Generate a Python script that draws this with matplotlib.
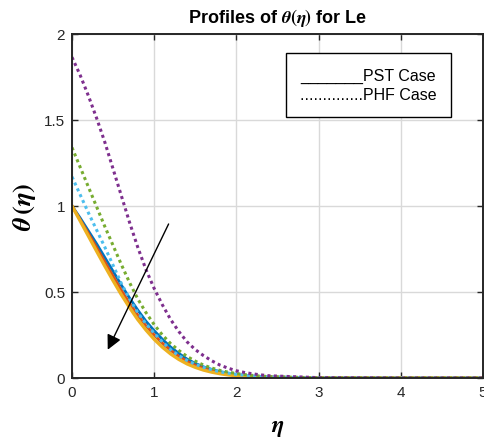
import numpy as np
import matplotlib
matplotlib.use("Agg")
import matplotlib.pyplot as plt
from matplotlib.lines import Line2D

plt.rcParams["font.family"] = ["Liberation Sans", "DejaVu Sans"]
plt.rcParams["mathtext.fontset"] = "stix"

# similarity variable
eta = [0, 0.1, 0.2, 0.3, 0.4, 0.5, 0.6, 0.7, 0.8, 0.9, 1.0, 1.1, 1.2, 1.3, 1.4,
       1.5, 1.6, 1.7, 1.8, 1.9, 2.0, 2.1, 2.2, 2.3, 2.4, 3, 4, 5]

# PST case (solid)
pst_blue = [1.0, 0.93, 0.855, 0.78, 0.70, 0.62, 0.54, 0.465, 0.395, 0.33, 0.275, 0.225, 0.18, 0.143,
            0.11, 0.085, 0.065, 0.05, 0.037, 0.028, 0.02, 0.015, 0.011, 0.008, 0.006, 0.001, 0, 0]
pst_red = [1.0, 0.92, 0.84, 0.758, 0.675, 0.592, 0.51, 0.435, 0.365, 0.303, 0.25, 0.202, 0.16, 0.126,
           0.097, 0.074, 0.056, 0.042, 0.031, 0.023, 0.017, 0.012, 0.009, 0.007, 0.005, 0.001, 0, 0]
pst_yellow = [1.0, 0.913, 0.825, 0.737, 0.65, 0.566, 0.485, 0.41, 0.34, 0.279, 0.225, 0.179, 0.14, 0.108,
              0.082, 0.062, 0.046, 0.034, 0.025, 0.018, 0.013, 0.01, 0.007, 0.005, 0.003, 0, 0, 0]

# PHF case (dotted)
phf_cyan = [1.17, 1.065, 0.96, 0.86, 0.76, 0.655, 0.55, 0.46, 0.38, 0.315, 0.26, 0.21, 0.165, 0.13,
            0.102, 0.08, 0.062, 0.048, 0.036, 0.028, 0.021, 0.016, 0.012, 0.009, 0.006, 0.001, 0, 0]
phf_green = [1.34, 1.225, 1.11, 0.995, 0.88, 0.77, 0.66, 0.555, 0.46, 0.38, 0.31, 0.25, 0.20, 0.16,
             0.125, 0.098, 0.075, 0.058, 0.044, 0.034, 0.026, 0.02, 0.015, 0.011, 0.008, 0.001, 0, 0]
phf_purple = [1.865, 1.76, 1.64, 1.51, 1.37, 1.215, 1.06, 0.905, 0.76, 0.63, 0.52, 0.425, 0.34, 0.27,
              0.21, 0.165, 0.13, 0.10, 0.075, 0.057, 0.042, 0.032, 0.024, 0.018, 0.013, 0.002, 0, 0]

fig = plt.figure(figsize=(4.84, 4.39), dpi=100)
ax = fig.add_axes([72 / 484, 1 - 379 / 439, 411 / 484, 344 / 439])

ax.plot(eta, pst_blue, color=(0, 0.447, 0.741), lw=2)
ax.plot(eta, pst_red, color=(0.85, 0.325, 0.098), lw=2)
ax.plot(eta, pst_yellow, color=(0.929, 0.694, 0.125), lw=2.4)

dot = dict(lw=2.2, dashes=(1, 1.1), dash_capstyle="butt")
ax.plot(eta, phf_cyan, color=(0.301, 0.745, 0.933), **dot)
ax.plot(eta, phf_green, color=(0.466, 0.674, 0.188), **dot)
ax.plot(eta, phf_purple, color=(0.494, 0.184, 0.556), **dot)

ax.annotate("", xy=(0.42, 0.15), xytext=(1.19, 0.91),
            arrowprops=dict(arrowstyle="-|>", color="k", lw=1, mutation_scale=22))

ax.set_xlim(0, 5)
ax.set_ylim(0, 2)
ax.set_xticks([0, 1, 2, 3, 4, 5])
ax.set_yticks([0, 0.5, 1, 1.5, 2])
ax.set_yticklabels(["0", "0.5", "1", "1.5", "2"])
ax.grid(True, color="#d9d9d9", lw=1)
ax.set_axisbelow(True)
ax.tick_params(direction="in", top=True, right=True, length=4, width=1,
               labelsize=11, labelcolor="#262626", color="#262626", pad=5)
for s in ax.spines.values():
    s.set_linewidth(1.4)
    s.set_color("#262626")

ax.set_title(r"Profiles of $\boldsymbol{\theta}\mathbf{(}\boldsymbol{\eta}\mathbf{)}$ for Le",
             fontsize=13, fontweight="bold", pad=9)
ax.set_xlabel(r"$\boldsymbol{\eta}$", fontsize=17, labelpad=12)
ax.set_ylabel(r"$\boldsymbol{\theta}\,\mathbf{(}\boldsymbol{\eta}\mathbf{)}$", fontsize=19, labelpad=4)

blank = Line2D([], [], linestyle="none")
leg = ax.legend([blank, blank], ["_______PST Case", "..............PHF Case"],
                loc="upper right", handlelength=0, handletextpad=0, fontsize=11.5,
                fancybox=False, edgecolor="k", framealpha=1, borderpad=0.9,
                labelspacing=0.3, borderaxespad=0)
leg.get_frame().set_linewidth(1)
leg.set_bbox_to_anchor((451 / 484, 1 - 54 / 439), transform=fig.transFigure)

fig.savefig("out.png", dpi=100)
